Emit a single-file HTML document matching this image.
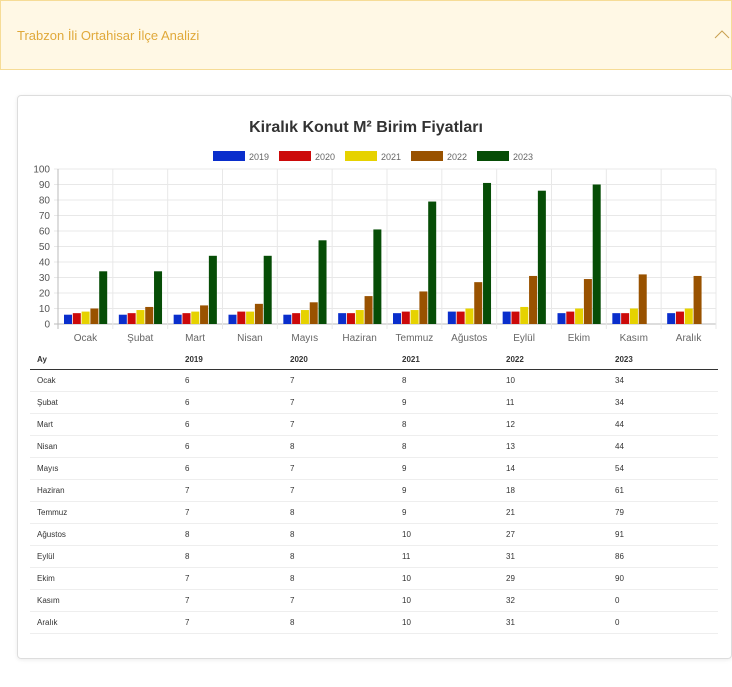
<!DOCTYPE html>
<html><head><meta charset="utf-8"><style>
body{margin:0;width:732px;height:687px;background:#fff;font-family:"Liberation Sans",sans-serif;position:relative;overflow:hidden}
#hdr{position:absolute;left:0;top:0;width:730px;height:68px;background:#fff8e5;border:1px solid #f6dc96}
#hdr span{position:absolute;left:16px;top:27px;font-size:13px;color:#e0a93a}
#card{position:absolute;left:17px;top:95px;width:713px;height:562px;border:1px solid #ddd;border-radius:4px;box-shadow:0 1px 4px rgba(0,0,0,.08)}
table{position:absolute;left:30px;top:350px;width:688px;border-collapse:collapse;font-size:8px;color:#333}
th{text-align:left;font-weight:bold;height:19px;border-bottom:1.5px solid #333;padding:0 0 0 7px}
td{height:21px;border-bottom:1px solid #eee;padding:0 0 0 7px}
</style></head><body>
<div id="hdr"><span>Trabzon İli Ortahisar İlçe Analizi</span>
<svg style="position:absolute;left:713px;top:28px" width="16" height="10"><polyline points="1,9 8,2 15,9" fill="none" stroke="#c9a050" stroke-width="1"/></svg></div>
<div id="card"></div>
<svg id="chart" width="732" height="345" style="position:absolute;left:0;top:0"></svg>
<table>
<thead><tr><th style="width:141px">Ay</th><th style="width:98px">2019</th><th style="width:105px">2020</th><th style="width:97px">2021</th><th style="width:102px">2022</th><th>2023</th></tr></thead>
<tbody id="tb"></tbody></table>
<script>
const categories=["Ocak","Şubat","Mart","Nisan","Mayıs","Haziran","Temmuz","Ağustos","Eylül","Ekim","Kasım","Aralık"];
const years=["2019","2020","2021","2022","2023"];
const s2019=[6,6,6,6,6,7,7,8,8,7,7,7];
const s2020=[7,7,7,8,7,7,8,8,8,8,7,8];
const s2021=[8,9,8,8,9,9,9,10,11,10,10,10];
const s2022=[10,11,12,13,14,18,21,27,31,29,32,31];
const s2023=[34,34,44,44,54,61,79,91,86,90,0,0];
const yTicks=[0,10,20,30,40,50,60,70,80,90,100];
const colors=["#0a2ecc","#cc0a0a","#e6d200","#995200","#064d06"];
const series=[s2019,s2020,s2021,s2022,s2023];
const NS="http://www.w3.org/2000/svg";
const svg=document.getElementById('chart');
const X0=58,X1=716,Y0=324,Y1=169;
const cw=(X1-X0)/categories.length;
const y=v=>Y0-(v/100)*(Y0-Y1);
function mk(t,a,p){const e=document.createElementNS(NS,t);for(const k in a)e.setAttribute(k,a[k]);(p||svg).appendChild(e);return e;}
const title=mk('text',{x:366,y:132,'text-anchor':'middle','font-size':16,'font-weight':'bold',fill:'#333'});
title.textContent="Kiralık Konut M² Birim Fiyatları";


years.forEach((yr,i)=>{const lx=213+i*66;
const r=mk('rect',{x:lx,y:151,width:32,height:10,fill:colors[i]});


const t=mk('text',{x:lx+36,y:160,'font-size':9,fill:'#666'});t.textContent=yr;

});
yTicks.forEach(v=>{mk('line',{x1:X0-4,x2:X1,y1:y(v),y2:y(v),stroke:v===0?'#bbb':'#e8e8e8'});
const t=mk('text',{x:X0-8,y:y(v)+3.5,'text-anchor':'end','font-size':10,fill:'#555'});t.textContent=v;

});
for(let i=0;i<=categories.length;i++){mk('line',{x1:X0+i*cw,x2:X0+i*cw,y1:Y1,y2:Y0+5,stroke:i===0?'#bbb':'#e8e8e8'});}
categories.forEach((c,i)=>{
const t=mk('text',{x:X0+(i+0.5)*cw,y:341,'text-anchor':'middle','font-size':10,fill:'#666'});t.textContent=c;


series.forEach((s,j)=>{const bx=X0+i*cw+6+j*8.8;
const b=mk('rect',{x:bx,y:y(s[i]),width:8,height:Y0-y(s[i]),fill:colors[j]});

});});
const tb=document.getElementById('tb');
categories.forEach((c,i)=>{const tr=document.createElement('tr');


[c,s2019[i],s2020[i],s2021[i],s2022[i],s2023[i]].forEach(v=>{const td=document.createElement('td');td.textContent=v;tr.appendChild(td);});
tb.appendChild(tr);});
</script>
</body></html>
